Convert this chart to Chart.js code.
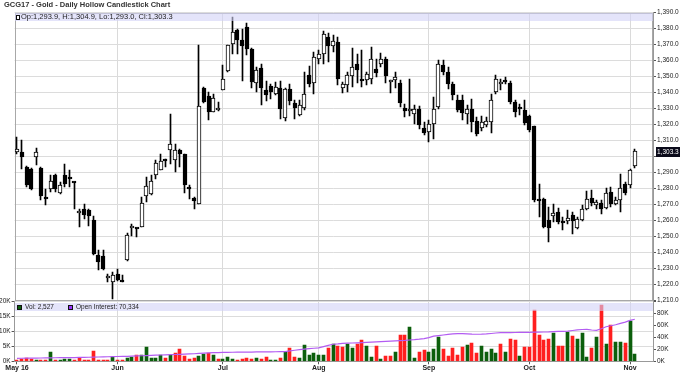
<!DOCTYPE html>
<html><head><meta charset="utf-8">
<script src="https://cdn.jsdelivr.net/npm/chart.js@4"></script>
<style>
html,body{margin:0;padding:0;background:#fff;}
#wrap{position:relative;width:680px;height:386px;overflow:hidden;font-family:"Liberation Sans",Arial,sans-serif;}
canvas{position:absolute;left:0;}
#cA{top:0;}
#cB{top:296px;}
.t{position:absolute;white-space:nowrap;color:#222;}
.band{position:absolute;background:rgba(210,210,247,0.6);}
.sq{position:absolute;width:3px;height:3px;border:1px solid #111;}
</style></head><body>
<div id="wrap">
<canvas id="cA" width="680" height="310"></canvas>
<canvas id="cB" width="680" height="90"></canvas>
<div class="t" style="left:4px;top:0;font-size:7.5px;font-weight:bold;line-height:10px;color:#333">GCG17 - Gold - Daily Hollow Candlestick Chart</div>
<div class="band" style="left:15px;top:13px;width:638px;height:8px"></div>
<div class="sq" style="left:16px;top:14.5px;width:2px;height:3px;background:#fff"></div>
<div class="t" id="ohlc" style="left:21px;top:13px;font-size:7.5px;line-height:8px"></div>
<div class="band" style="left:15px;top:303px;width:638px;height:8px"></div>
<div class="sq" style="left:17px;top:304.5px;background:#0c5f0c"></div>
<div class="t" id="volLbl" style="left:25px;top:303px;font-size:6.5px;line-height:8px"></div>
<div class="sq" style="left:68px;top:304.5px;background:#9933ff"></div>
<div class="t" id="oiLbl" style="left:76px;top:303px;font-size:6.5px;line-height:8px"></div>
</div>
<script>
// ---------- DATA ----------
const tickIdx = [0, 21, 43, 63, 86, 107, 128];
const tickLabels = ['May 16', 'Jun', 'Jul', 'Aug', 'Sep', 'Oct', 'Nov'];

const open = [1303.0,1302.9,1293.5,1292.1,1299.8,1292.9,1274.6,1280.0,1288.3,1277.3,
1288.3,1286.6,1284.0,1264.5,1267.3,1266.9,1260.6,1238.8,1237.7,1224.5,
1221.7,1226.9,1222.2,1235.2,1255.4,1255.0,1256.0,1275.4,1276.9,1288.3,
1291.9,1297.4,1304.0,1298.1,1304.4,1301.5,1280.2,1274.4,1270.6,1343.1,
1337.7,1327.9,1329.0,1341.9,1353.5,1370.6,1379.0,1372.7,1381.0,1367.5,
1346.0,1355.6,1341.5,1344.2,1339.4,1343.1,1324.4,1342.1,1333.5,1325.8,
1330.6,1350.8,1346.0,1361.3,1364.4,1374.8,1369.0,1371.7,1343.1,1344.6,
1350.2,1357.7,1348.8,1347.7,1348.8,1355.0,1358.1,1361.3,1346.5,1347.7,
1346.0,1330.4,1328.8,1326.5,1330.0,1318.1,1315.4,1320.6,1331.0,1357.1,
1352.9,1345.6,1335.2,1335.6,1326.5,1330.0,1322.1,1318.1,1320.0,1321.7,
1340.4,1345.2,1347.2,1346.2,1334.2,1330.2,1329.0,1325.2,1319.0,1273.8,
1273.3,1260.6,1262.7,1265.4,1258.7,1259.8,1263.3,1255.6,1260.2,1267.5,
1274.2,1269.6,1271.0,1268.1,1277.9,1270.2,1273.1,1282.7,1282.1,1293.9];
const high = [1312.3,1310.2,1294.5,1292.8,1305.6,1293.5,1280.0,1288.3,1289.4,1284.2,
1295.6,1291.5,1284.4,1267.5,1270.2,1267.5,1262.7,1241.5,1241.9,1226.9,
1227.9,1230.0,1225.8,1252.3,1258.0,1255.5,1274.8,1287.3,1288.3,1297.7,
1301.5,1298.7,1326.9,1308.1,1304.6,1302.0,1282.0,1274.6,1369.6,1343.5,
1340.4,1339.4,1334.2,1357.1,1370.0,1387.3,1380.0,1380.0,1383.5,1367.8,
1356.0,1358.1,1347.3,1345.2,1346.7,1347.3,1343.1,1345.2,1335.6,1335.6,
1352.9,1356.5,1365.4,1366.5,1378.5,1377.3,1375.8,1374.8,1346.7,1352.9,
1368.1,1364.0,1366.5,1352.9,1368.5,1361.3,1364.8,1362.3,1347.9,1352.9,
1347.7,1333.1,1348.8,1332.1,1331.5,1321.7,1323.1,1337.3,1360.2,1360.6,
1356.0,1346.7,1338.3,1338.3,1332.1,1336.2,1324.8,1325.2,1324.8,1339.4,
1350.8,1348.8,1349.8,1347.3,1335.6,1333.1,1335.2,1325.8,1319.2,1282.7,
1274.4,1268.5,1270.6,1268.1,1262.3,1266.9,1265.4,1262.3,1269.6,1278.3,
1279.0,1273.1,1272.7,1280.6,1281.0,1274.8,1289.4,1284.2,1292.5,1304.9];
const low = [1301.5,1292.5,1281.0,1279.5,1294.6,1273.1,1270.0,1277.9,1277.9,1276.5,
1281.0,1281.0,1267.5,1256.0,1261.3,1257.0,1238.3,1229.0,1229.0,1221.7,
1211.0,1222.3,1221.5,1235.0,1250.4,1250.0,1256.0,1271.7,1275.8,1286.2,
1291.5,1293.5,1295.6,1290.4,1293.5,1277.3,1273.8,1267.5,1270.4,1333.5,
1323.1,1327.9,1328.8,1341.9,1353.0,1364.4,1364.4,1347.3,1363.3,1343.1,
1340.4,1332.1,1334.8,1336.2,1338.3,1323.8,1322.3,1332.1,1323.8,1325.2,
1329.0,1343.5,1339.4,1357.7,1358.1,1359.2,1365.4,1344.6,1339.8,1340.4,
1343.5,1346.0,1343.5,1344.6,1345.6,1349.8,1356.0,1346.0,1339.8,1343.1,
1331.0,1324.8,1325.2,1320.6,1317.5,1313.3,1309.2,1311.3,1330.0,1350.8,
1342.5,1335.2,1327.9,1322.7,1320.6,1315.4,1312.7,1316.0,1318.5,1314.8,
1339.4,1341.5,1345.6,1332.7,1324.8,1325.8,1319.6,1315.4,1271.7,1262.3,
1255.6,1246.7,1259.2,1258.1,1254.4,1258.1,1251.5,1255.0,1259.8,1266.5,
1269.0,1267.5,1264.0,1267.5,1268.5,1269.6,1265.4,1275.8,1280.6,1293.0];
const close = [1304.5,1299.8,1282.5,1280.0,1302.9,1275.4,1273.8,1284.8,1280.0,1282.1,
1283.1,1286.2,1283.6,1265.8,1263.3,1262.7,1239.4,1234.2,1230.0,1225.2,
1226.3,1223.1,1221.6,1250.8,1255.8,1254.7,1271.0,1281.5,1284.8,1296.0,
1297.3,1297.1,1308.1,1304.4,1301.5,1282.1,1279.9,1272.1,1331.7,1334.2,
1327.9,1336.9,1330.0,1348.8,1369.6,1377.9,1372.7,1369.0,1367.5,1346.7,
1354.4,1343.1,1338.3,1340.4,1343.5,1330.0,1342.1,1334.8,1330.6,1332.1,
1339.0,1345.2,1362.3,1364.4,1376.9,1369.0,1372.3,1348.8,1345.2,1350.8,
1356.0,1354.0,1347.3,1351.9,1361.3,1352.3,1361.3,1350.2,1347.7,1349.8,
1333.5,1328.5,1329.2,1330.0,1319.6,1315.0,1320.6,1330.0,1357.7,1352.9,
1345.6,1338.3,1329.4,1327.3,1330.0,1321.7,1314.0,1321.7,1322.1,1335.2,
1348.8,1346.2,1347.0,1334.2,1327.9,1330.0,1321.3,1316.5,1273.1,1272.3,
1256.0,1255.6,1264.8,1259.2,1258.4,1261.9,1259.8,1261.3,1267.1,1273.8,
1271.0,1271.7,1267.5,1277.3,1270.2,1273.1,1280.6,1277.3,1291.9,1303.3];
// volume (thousands) and its colour (u = green, d = red)
const volume = [0.3,0.9,1.0,0.9,0.4,0.3,0.3,3.1,0.6,0.3,
0.8,0.7,0.3,1.2,0.6,0.4,3.3,0.6,0.5,0.6,
1.3,0.3,0.4,1.2,1.4,2.2,2.2,4.7,1.2,1.2,
2.0,1.2,2.2,2.7,4.1,1.8,0.9,1.2,1.7,2.4,
2.8,2.2,0.8,0.8,1.6,0.8,0.3,0.8,1.0,0.8,
1.1,0.8,1.6,0.3,0.4,1.0,3.0,4.3,1.6,1.1,
5.4,2.0,2.8,2.2,2.2,4.4,5.8,5.0,4.7,5.8,
4.6,5.7,7.1,5.1,1.6,5.1,0.7,1.7,1.7,3.1,
8.7,8.9,11.5,1.0,3.1,3.8,3.1,4.1,8.0,4.1,
1.8,4.5,2.2,4.8,5.6,6.1,2.7,5.1,3.1,4.1,
2.9,5.7,3.0,7.5,7.0,1.8,4.8,4.7,17.2,8.8,
7.1,7.6,9.6,5.1,5.1,9.8,8.5,7.6,9.3,1.5,
4.6,8.2,18.9,5.7,12.2,6.4,6.3,6.1,13.4,2.527];
const volDir = ['d','d','d','d','u','d','d','u','d','u',
'u','u','d','d','d','d','d','d','d','d',
'u','d','d','u','u','d','u','u','u','u',
'u','d','u','d','d','d','d','d','u','u',
'd','u','d','u','u','u','d','d','d','d',
'u','d','d','u','u','d','u','d','d','u',
'u','u','u','u','u','d','u','d','d','u',
'u','d','d','u','u','d','u','d','d','u',
'd','d','u','u','d','d','u','u','u','d',
'd','d','d','d','u','d','d','u','u','u',
'u','d','u','d','d','u','d','d','d','d',
'd','d','u','d','d','u','d','u','u','u',
'd','u','d','u','d','u','u','d','u','u'];
// open interest (thousands)
const openInterest = [5.0,5.1,5.2,5.3,5.4,5.5,5.6,5.8,5.9,6.0,
6.1,6.2,6.3,6.5,6.6,6.8,7.0,7.2,7.4,7.6,
7.8,8.0,8.2,8.4,8.7,9.0,9.3,9.6,9.9,10.2,
10.5,10.8,11.1,11.4,11.7,12.0,12.3,12.6,13.2,13.8,
14.2,14.4,14.5,14.8,15.0,15.1,15.2,15.3,15.4,15.5,
15.6,15.7,15.8,15.9,16.0,16.1,16.3,17.5,18.5,19.5,
20.5,21.2,21.8,22.5,24.5,26.5,28.5,29.0,30.0,30.3,
30.6,30.9,31.2,31.6,32.0,32.4,32.8,33.3,33.8,34.2,
34.6,35.0,35.6,36.2,37.0,38.0,39.5,42.0,43.0,44.0,
45.0,45.8,46.2,46.4,46.0,45.5,45.2,45.3,45.8,46.5,
47.3,47.8,47.9,48.0,48.2,48.4,48.4,48.5,48.8,48.9,
49.0,49.2,49.6,50.0,50.2,50.5,51.5,52.5,53.2,53.4,
52.3,51.8,54.5,57.8,59.5,61.1,63.5,65.6,68.5,70.334];

// ---------- HELPERS ----------
const FONT = '"Liberation Sans", Arial, sans-serif';
const n = close.length, last = n - 1;
const fmt1 = v => v.toLocaleString('en-US', {minimumFractionDigits: 1, maximumFractionDigits: 1});
document.getElementById('ohlc').textContent =
  'Op:' + fmt1(open[last]) + ', H:' + fmt1(high[last]) + ', Lo:' + fmt1(low[last]) + ', Cl:' + fmt1(close[last]);
document.getElementById('volLbl').textContent = 'Vol: ' + Math.round(volume[last] * 1000).toLocaleString('en-US');
document.getElementById('oiLbl').textContent = 'Open Interest: ' + Math.round(openInterest[last] * 1000).toLocaleString('en-US');

const idx = close.map((_, i) => i);
const X_MIN = -0.5, X_MAX = 132.8;

const snap = {
  id: 'snap',
  afterDatasetsUpdate(chart) {
    chart.data.datasets.forEach((ds, di) => {
      const meta = chart.getDatasetMeta(di);
      if (meta.type !== 'bar') return;
      meta.data.forEach(el => {
        const w = el.width;
        el.x = Math.round(el.x - w / 2) + w / 2;
        el.y = Math.round(el.y);
        el.base = Math.round(el.base);
        if (ds.minBarLength && Math.abs(el.base - el.y) < ds.minBarLength) el.base = el.y + ds.minBarLength;
      });
    });
  }
};
const frame = {
  id: 'frame',
  beforeDatasetsDraw(chart) {
    const a = chart.chartArea, c = chart.ctx;
    c.save(); c.strokeStyle = '#a8a8a8'; c.lineWidth = 1;
    c.strokeRect(Math.round(a.left) + 0.5, Math.round(a.top) + 0.5, Math.round(a.right - a.left) - 1, Math.round(a.bottom - a.top) - 1);
    c.restore();
  }
};
const lastPrice = {
  id: 'lastPrice',
  afterDraw(chart) {
    const c = chart.ctx, s = chart.scales.y;
    const y = Math.round(s.getPixelForValue(close[last])) + 1;
    const x = chart.chartArea.right + 3;
    c.save();
    c.fillStyle = '#0a0a1a'; c.fillRect(x, y - 5, 30, 10);
    c.fillStyle = '#fff'; c.font = '6.5px ' + FONT; c.textBaseline = 'middle'; c.textAlign = 'left';
    c.fillText(fmt1(close[last]), x + 1, y + 0.5);
    c.restore();
  }
};
const monthGrid = c => (c.tick && c.tick.value === 0) ? 'rgba(0,0,0,0)' : '#dadada';
const setMonthTicks = s => { s.ticks = tickIdx.map(v => ({value: v})); };

// ---------- PRICE CHART ----------
new Chart(document.getElementById('cA'), {
  type: 'bar',
  data: {datasets: [
    {label: 'body', data: idx.map(i => ({x: i, y: [open[i], close[i]]})),
     backgroundColor: c => close[c.dataIndex] >= open[c.dataIndex] ? '#ffffff' : '#000000',
     borderColor: '#000', borderWidth: 1, borderSkipped: false, barThickness: 4, minBarLength: 2,
     grouped: false, order: 0},
    {label: 'wick', data: idx.map(i => ({x: i, y: [low[i], high[i]]})),
     backgroundColor: '#000', borderWidth: 0, barThickness: 1, grouped: false, order: 1}
  ]},
  options: {
    responsive: false, animation: false, events: [],
    layout: {padding: {left: 14.6, top: 12.7, right: 0, bottom: 9.3}},
    plugins: {legend: {display: false}, tooltip: {enabled: false}},
    scales: {
      x: {type: 'linear', min: X_MIN, max: X_MAX, offset: false,
          afterBuildTicks: setMonthTicks,
          ticks: {display: false},
          grid: {offset: false, color: monthGrid, drawTicks: false},
          border: {display: false},
          afterFit: s => { s.height = 0; }},
      y: {position: 'right', min: 1210, max: 1390,
          ticks: {stepSize: 10, autoSkip: false, padding: 1, color: '#222',
                  font: {family: FONT, size: 6.5},
                  callback: v => Math.abs(v - close[last]) < 5 ? '' : fmt1(v)},
          grid: {color: '#dcdcdc', tickColor: '#555', tickLength: 3},
          border: {color: '#999'},
          afterFit: s => { s.width = 27; }}
    }
  },
  plugins: [snap, frame, lastPrice]
});

// ---------- VOLUME CHART ----------
new Chart(document.getElementById('cB'), {
  type: 'bar',
  data: {datasets: [
    {type: 'line', label: 'Open Interest', data: idx.map(i => ({x: i, y: openInterest[i]})),
     yAxisID: 'yo', borderColor: '#b35cf2', borderWidth: 1.2, pointRadius: 0, tension: 0, order: 0},
    {type: 'bar', label: 'Vol', data: idx.map(i => ({x: i, y: volume[i]})),
     yAxisID: 'yv', backgroundColor: c => volDir[c.dataIndex] === 'u' ? '#0c5f0c' : '#ff1f1f',
     borderWidth: 0, barThickness: 3, grouped: false, order: 1}
  ]},
  options: {
    responsive: false, animation: false, events: [],
    layout: {padding: {left: 0, top: 5.5, right: 0, bottom: 0}},
    plugins: {legend: {display: false}, tooltip: {enabled: false}},
    scales: {
      x: {type: 'linear', min: X_MIN, max: X_MAX, offset: false,
          afterBuildTicks: setMonthTicks,
          ticks: {autoSkip: false, maxRotation: 0, padding: 0, color: '#222',
                  font: {family: FONT, size: 7, weight: 'bold'},
                  callback: v => { const k = tickIdx.indexOf(v); return k < 0 ? '' : tickLabels[k]; }},
          grid: {offset: false, color: monthGrid, tickColor: '#555', tickLength: 3},
          border: {color: '#999'},
          afterFit: s => { s.height = 24.7; }},
      yv: {position: 'left', min: 0, max: 20,
           ticks: {stepSize: 5, padding: 1, color: '#222', font: {family: FONT, size: 6.5},
                   callback: v => v + 'K'},
           grid: {color: '#dcdcdc', tickColor: '#555', tickLength: 3},
           border: {color: '#999'},
           afterFit: s => { s.width = 14.6; }},
      yo: {position: 'right', min: 0, max: 100,
           ticks: {stepSize: 20, padding: 1, color: '#222', font: {family: FONT, size: 6.5},
                   callback: v => v >= 100 ? '' : v + 'K'},
           grid: {drawOnChartArea: false, tickColor: '#555', tickLength: 3},
           border: {color: '#999'},
           afterFit: s => { s.width = 27; }}
    }
  },
  plugins: [snap]
});
</script>
</body></html>
